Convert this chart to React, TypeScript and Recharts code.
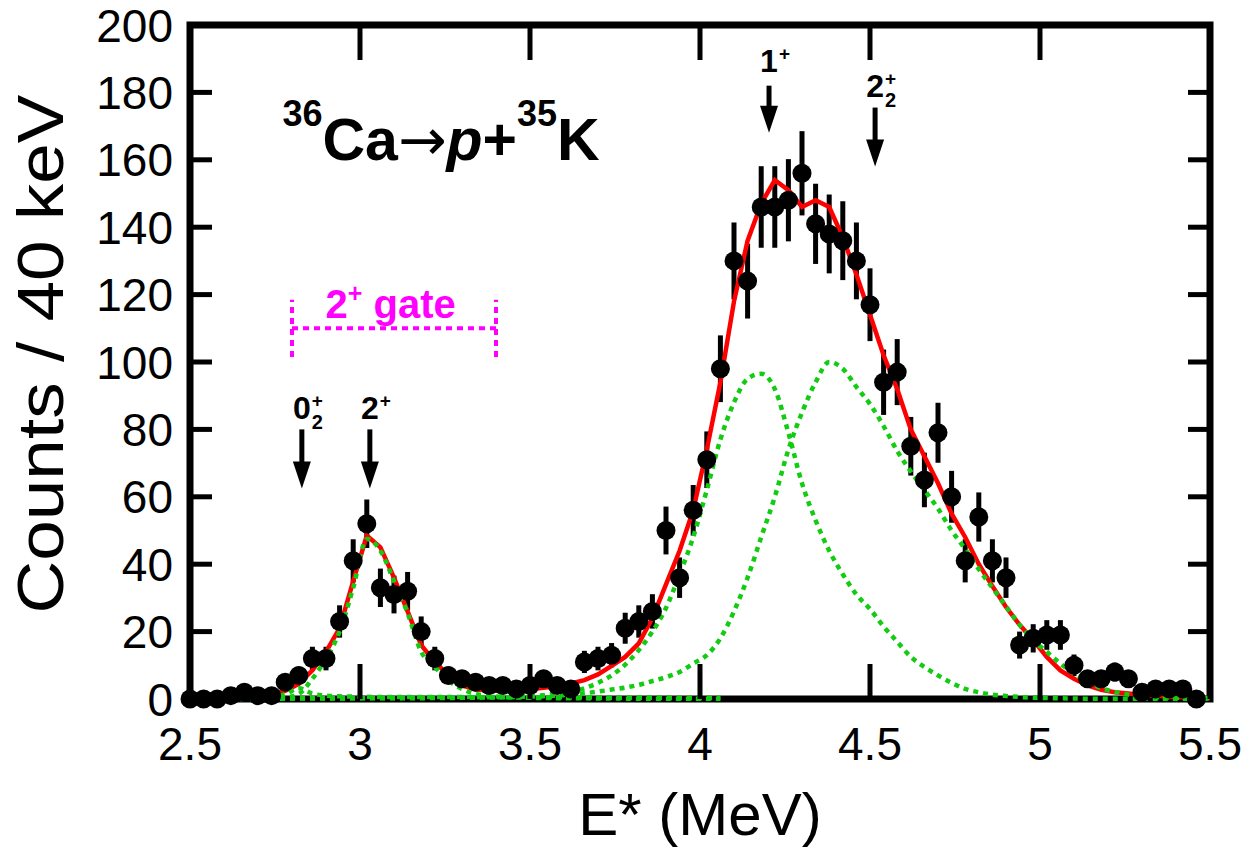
import React from 'react';
import {
  ComposedChart,
  Line,
  Scatter,
  ErrorBar,
  XAxis,
  YAxis,
  ReferenceArea,
  ReferenceDot,
  ReferenceLine,
} from 'recharts';

const FONT = '"Liberation Sans", Arial, Helvetica, sans-serif';

// histogram: 40 keV bins starting at 2.50 MeV
const binStart = 2.5;
const binWidth = 0.04;

const counts = [
  0, 0, 0, 1, 2, 1, 1, 5, 7, 12,
  12, 23, 41, 52, 33, 31, 32, 20, 12, 7,
  6, 5, 4, 4, 3, 4, 6, 4, 3, 11,
  12, 13, 21, 23, 26, 50, 36, 56, 71, 98,
  130, 124, 146, 146, 148, 156, 141, 138, 136, 130,
  117, 94, 97, 75, 65, 79, 60, 41, 54, 41,
  36, 16, 18, 19, 19, 10, 6, 6, 8, 6,
  2, 3, 3, 3, 0,
];

const countErrors = [
  0, 0, 0, 1, 1.4, 1, 1, 2.2, 2.6, 3.5,
  3.5, 4.8, 6.4, 7.2, 5.7, 5.6, 5.7, 4.5, 3.5, 2.6,
  2.4, 2.2, 2, 2, 1.7, 2, 2.4, 2, 1.7, 3.3,
  3.5, 3.6, 4.6, 4.8, 5.1, 7.1, 6, 7.5, 8.4, 9.9,
  11.4, 11.1, 12.1, 12.1, 12.2, 12.5, 11.9, 11.7, 11.7, 11.4,
  10.8, 9.7, 9.8, 8.7, 8.1, 8.9, 7.7, 6.4, 7.3, 6.4,
  6, 4, 4.2, 4.4, 4.4, 3.2, 2.4, 2.4, 2.8, 2.4,
  1.4, 1.7, 1.7, 1.7, 0,
];

const totalFit = [
  0.3, 0.4, 0.5, 0.7, 0.9, 1.2, 1.6, 2.4, 4.5, 8.5,
  14, 21, 35, 48.5, 45, 36, 26, 16, 11, 7,
  4, 2.8, 2.6, 2.5, 2.6, 2.9, 3.3, 3.8, 4.6, 5.6,
  7.3, 9.8, 12.5, 16.5, 24, 34, 44, 56, 74, 94,
  118, 136, 147, 154, 151, 146, 148, 146, 137, 126,
  114, 102, 92, 80, 72, 64, 55, 48, 40, 33.5,
  27.3, 22, 17.5, 12.5, 8.5, 6, 4, 2.7, 2, 1.6,
  1.2, 1, 0.7, 0.5, 0.4, 0.3,
];

const fit2plus = [
  0, 0, 0, 0, 0, 0, 0.1, 0.4, 1.5, 6,
  12, 20, 33, 47.5, 44, 35, 25.5, 14, 9.5, 5.5,
  3, 1.5, 1, 0.6, 0.45, 0.35, 0.3, 0.25, 0.2, 0.2,
  0.15, 0.15, 0.1, 0.1, 0.1, 0.1, 0.1, 0.1, 0.1, 0.1,
];

const fit0plus2 = [
  0.1, 0.15, 0.2, 0.25, 0.3, 0.4, 0.6, 1.4, 3.2, 1.6,
  1, 0.8, 0.7, 0.65, 0.6, 0.6, 0.6, 0.6, 0.6, 0.6,
  0.6, 0.55, 0.55, 0.5, 0.5, 0.5, 0.5, 0.5, 0.45, 0.45,
  0.4, 0.4, 0.4, 0.35, 0.35, 0.35, 0.3, 0.3, 0.3, 0.3,
];

const fit1plus = [
  0.1, 0.1, 0.1, 0.1, 0.1, 0.1, 0.1, 0.1, 0.15, 0.15,
  0.15, 0.15, 0.2, 0.2, 0.2, 0.2, 0.25, 0.25, 0.3, 0.3,
  0.35, 0.4, 0.45, 0.5, 0.6, 0.8, 1.1, 1.5, 2.1, 3.2,
  4.8, 7, 10.2, 14.5, 20, 27, 37, 48, 62, 77,
  88, 95, 96.5, 92, 79, 64, 53, 44, 37, 31,
  26.7, 21.5, 17, 12.5, 9.5, 7, 4.8, 3, 2, 1.3,
  0.9, 0.6, 0.4, 0.3, 0.2, 0.15, 0.1, 0.1, 0.1, 0.1,
  0.1, 0.1, 0.1, 0.1, 0.1, 0.1,
];

const fit2plus2 = [
  0.1, 0.1, 0.1, 0.1, 0.1, 0.15, 0.15, 0.15, 0.2, 0.2,
  0.2, 0.25, 0.25, 0.3, 0.3, 0.3, 0.35, 0.35, 0.4, 0.4,
  0.45, 0.5, 0.55, 0.6, 0.65, 0.75, 0.85, 1, 1.3, 1.7,
  2.2, 2.8, 3.4, 4.2, 5.3, 6.5, 8, 10.5, 13, 18,
  26, 36, 48, 60, 74, 85, 94, 100, 98, 92.6,
  87.5, 81, 73.6, 67.5, 62, 56.5, 50, 44.5, 38.5, 33,
  27.5, 22, 17.5, 14, 10.5, 7.5, 5, 3.2, 2.1, 1.3,
  0.9, 0.6, 0.45, 0.35, 0.3, 0.25,
];

const xTicks = [2.5, 3, 3.5, 4, 4.5, 5, 5.5];
const xTickLabels = ['2.5', '3', '3.5', '4', '4.5', '5', '5.5'];
const yTicks = [0, 20, 40, 60, 80, 100, 120, 140, 160, 180, 200];

// level markers (energy in MeV, arrow top / tip and label baseline in counts)
const levels = [
  { main: '0', sub: '2', sup: '+', e: 2.829, top: 80, tip: 62.5, labelY: 83 },
  { main: '2', sub: '', sup: '+', e: 3.029, top: 80, tip: 62.5, labelY: 83 },
  { main: '1', sub: '', sup: '+', e: 4.203, top: 182, tip: 168, labelY: 186 },
  { main: '2', sub: '2', sup: '+', e: 4.515, top: 175.5, tip: 158, labelY: 178.5 },
];

const gate = { from: 2.8, to: 3.4, y: 110, lo: 101.5, hi: 118.5, labelY: 113 };
const reaction = { e: 2.772, y: 160 };

const energyOf = (i: number) => Math.round((binStart + binWidth * i) * 100) / 100;
const pointData = counts.map((c, i) => ({ e: energyOf(i), c, err: countErrors[i] }));
const curve = (arr: number[]) => arr.map((v, i) => ({ e: energyOf(i), v }));

const GREEN = '#11cc11';
const RED = '#ff0000';
const MAGENTA = '#ff00ff';

const XTick = (props: any) => {
  const { x, y, payload } = props;
  const idx = xTicks.indexOf(payload.value);
  return (
    <text x={x} y={y} textAnchor="middle" fontFamily={FONT} fontSize={46} fill="#000">
      {idx >= 0 ? xTickLabels[idx] : String(payload.value)}
    </text>
  );
};

const YTick = (props: any) => {
  const { x, y, payload } = props;
  return (
    <text x={x} y={y} dy="0.36em" textAnchor="end" fontFamily={FONT} fontSize={46} fill="#000">
      {payload.value}
    </text>
  );
};

const Dot = (props: any) => {
  const { cx, cy } = props;
  if (cx == null || cy == null) return <g />;
  return <circle cx={cx} cy={cy} r={9.5} fill="#000" />;
};

// inner tick on the top frame edge
const TopTick = (props: any) => {
  const { x1, y1, y2 } = props;
  const y = Math.min(y1, y2);
  return <line x1={x1} x2={x1} y1={y} y2={y + 35} stroke="#000" strokeWidth={5} />;
};

// inner tick on the right frame edge
const RightTick = (props: any) => {
  const { x1, x2, y1 } = props;
  const x = Math.max(x1, x2);
  return <line x1={x - 22} x2={x} y1={y1} y2={y1} stroke="#000" strokeWidth={5} />;
};

const Arrow = (props: any) => {
  const { x1, y1, y2 } = props;
  const xt = x1;
  const yTop = Math.min(y1, y2);
  const yTip = Math.max(y1, y2);
  const headH = 27;
  const headW = 9;
  return (
    <g>
      <line x1={xt} y1={yTop} x2={xt} y2={yTip - headH + 2} stroke="#000" strokeWidth={5} />
      <polygon
        points={`${xt - headW},${yTip - headH} ${xt + headW},${yTip - headH} ${xt},${yTip}`}
        fill="#000"
      />
    </g>
  );
};

const makeLevelLabel = (lv: typeof levels[number]) => (props: any) => {
  const { cx, cy } = props;
  const mainSize = 32;
  const half = (0.556 * mainSize) / 2;
  return (
    <g fontFamily={FONT} fontWeight="bold" fill="#000">
      <text x={cx} y={cy} textAnchor="middle" fontSize={mainSize}>
        {lv.main}
      </text>
      <text x={cx + half + 1} y={cy - 12} fontSize={19}>
        {lv.sup}
      </text>
      {lv.sub ? (
        <text x={cx + half + 1} y={cy + 10} fontSize={20}>
          {lv.sub}
        </text>
      ) : null}
    </g>
  );
};

const GateLabel = (props: any) => {
  const { cx, cy } = props;
  return (
    <text x={cx} y={cy} textAnchor="middle" fontFamily={FONT} fontWeight="bold" fontSize={40} fill={MAGENTA}>
      2
      <tspan fontSize={25} dy={-16}>+</tspan>
      <tspan dy={16}> gate</tspan>
    </text>
  );
};

const ReactionLabel = (props: any) => {
  const { cx, cy } = props;
  return (
    <text x={cx} y={cy} fontFamily={FONT} fontWeight="bold" fontSize={59} fill="#000">
      <tspan fontSize={36} dy={-34}>36</tspan>
      <tspan dy={34}>Ca</tspan>
      <tspan fontFamily='"DejaVu Sans", sans-serif' fontWeight="normal" fontSize={58}>→</tspan>
      <tspan fontStyle="italic">p</tspan>
      <tspan>+</tspan>
      <tspan fontSize={36} dy={-34}>35</tspan>
      <tspan dy={34}>K</tspan>
    </text>
  );
};

const XTitle = (props: any) => {
  const vb = props.viewBox || { x: 182, y: 691, width: 1020, height: 100 };
  return (
    <text x={vb.x + vb.width / 2} y={vb.y + 136} textAnchor="middle" fontFamily={FONT} fontSize={60} fill="#000">
      E* (MeV)
    </text>
  );
};

const YTitle = (props: any) => {
  const vb = props.viewBox || { x: 82, y: 17, width: 100, height: 674 };
  const x = vb.x - 27;
  const y = vb.y + vb.height / 2 - 8;
  return (
    <text
      transform={`translate(${x}, ${y}) rotate(-90) scale(1.14, 1)`}
      x={0}
      y={0}
      textAnchor="middle"
      fontFamily={FONT}
      fontSize={64}
      fill="#000"
    >
      Counts / 40 keV
    </text>
  );
};

export default function App() {
  const tickLine = { stroke: '#000', strokeWidth: 5 };
  return (
    <div style={{ width: 1252, height: 840, background: '#fff' }}>
      <ComposedChart width={1252} height={840} margin={{ top: 17, right: 50, bottom: 49, left: 82 }}>
        <XAxis
          type="number"
          dataKey="e"
          domain={[2.5, 5.5]}
          ticks={xTicks}
          height={100}
          axisLine={false}
          tickSize={-35}
          tickMargin={96}
          tickLine={tickLine}
          tick={<XTick />}
          interval={0}
          label={XTitle}
        />
        <YAxis
          type="number"
          domain={[0, 200]}
          ticks={yTicks}
          width={100}
          axisLine={false}
          tickSize={-22}
          tickMargin={39}
          tickLine={tickLine}
          tick={<YTick />}
          interval={0}
          label={YTitle}
        />
        <ReferenceArea x1={2.5} x2={5.5} y1={0} y2={200} fill="none" fillOpacity={0} stroke="#000" strokeWidth={7} />

        {xTicks.map((t) => (
          <ReferenceLine key={`tt${t}`} x={t} shape={TopTick} />
        ))}
        {yTicks.map((t) => (
          <ReferenceLine key={`rt${t}`} y={t} shape={RightTick} />
        ))}

        <Scatter data={pointData} dataKey="c" shape={<Dot />} isAnimationActive={false}>
          <ErrorBar dataKey="err" direction="y" width={0} stroke="#000" strokeWidth={5} isAnimationActive={false} />
        </Scatter>

        <Line data={curve(totalFit)} dataKey="v" type="linear" stroke={RED} strokeWidth={4.5} dot={false} activeDot={false} isAnimationActive={false} />
        <Line data={curve(fit2plus)} dataKey="v" type="monotone" stroke={GREEN} strokeWidth={4.5} strokeDasharray="5 5" dot={false} activeDot={false} isAnimationActive={false} />
        <Line data={curve(fit0plus2)} dataKey="v" type="monotone" stroke={GREEN} strokeWidth={4.5} strokeDasharray="5 5" dot={false} activeDot={false} isAnimationActive={false} />
        <Line data={curve(fit1plus)} dataKey="v" type="monotone" stroke={GREEN} strokeWidth={4.5} strokeDasharray="5 5" dot={false} activeDot={false} isAnimationActive={false} />
        <Line data={curve(fit2plus2)} dataKey="v" type="monotone" stroke={GREEN} strokeWidth={4.5} strokeDasharray="5 5" dot={false} activeDot={false} isAnimationActive={false} />

        {levels.map((lv, i) => (
          <ReferenceLine
            key={`arr${i}`}
            segment={[{ x: lv.e, y: lv.top }, { x: lv.e, y: lv.tip }]}
            shape={Arrow}
          />
        ))}
        {levels.map((lv, i) => (
          <ReferenceDot key={`lab${i}`} x={lv.e} y={lv.labelY} r={0} shape={makeLevelLabel(lv)} />
        ))}

        <ReferenceLine segment={[{ x: gate.from, y: gate.y }, { x: gate.to, y: gate.y }]} stroke={MAGENTA} strokeWidth={4} strokeDasharray="6 5" />
        <ReferenceLine segment={[{ x: gate.from, y: gate.lo }, { x: gate.from, y: gate.hi }]} stroke={MAGENTA} strokeWidth={4} strokeDasharray="6 5" />
        <ReferenceLine segment={[{ x: gate.to, y: gate.lo }, { x: gate.to, y: gate.hi }]} stroke={MAGENTA} strokeWidth={4} strokeDasharray="6 5" />
        <ReferenceDot x={(gate.from + gate.to) / 2 - 0.01} y={gate.labelY} r={0} shape={GateLabel} />

        <ReferenceDot x={reaction.e} y={reaction.y} r={0} shape={ReactionLabel} />
      </ComposedChart>
    </div>
  );
}
